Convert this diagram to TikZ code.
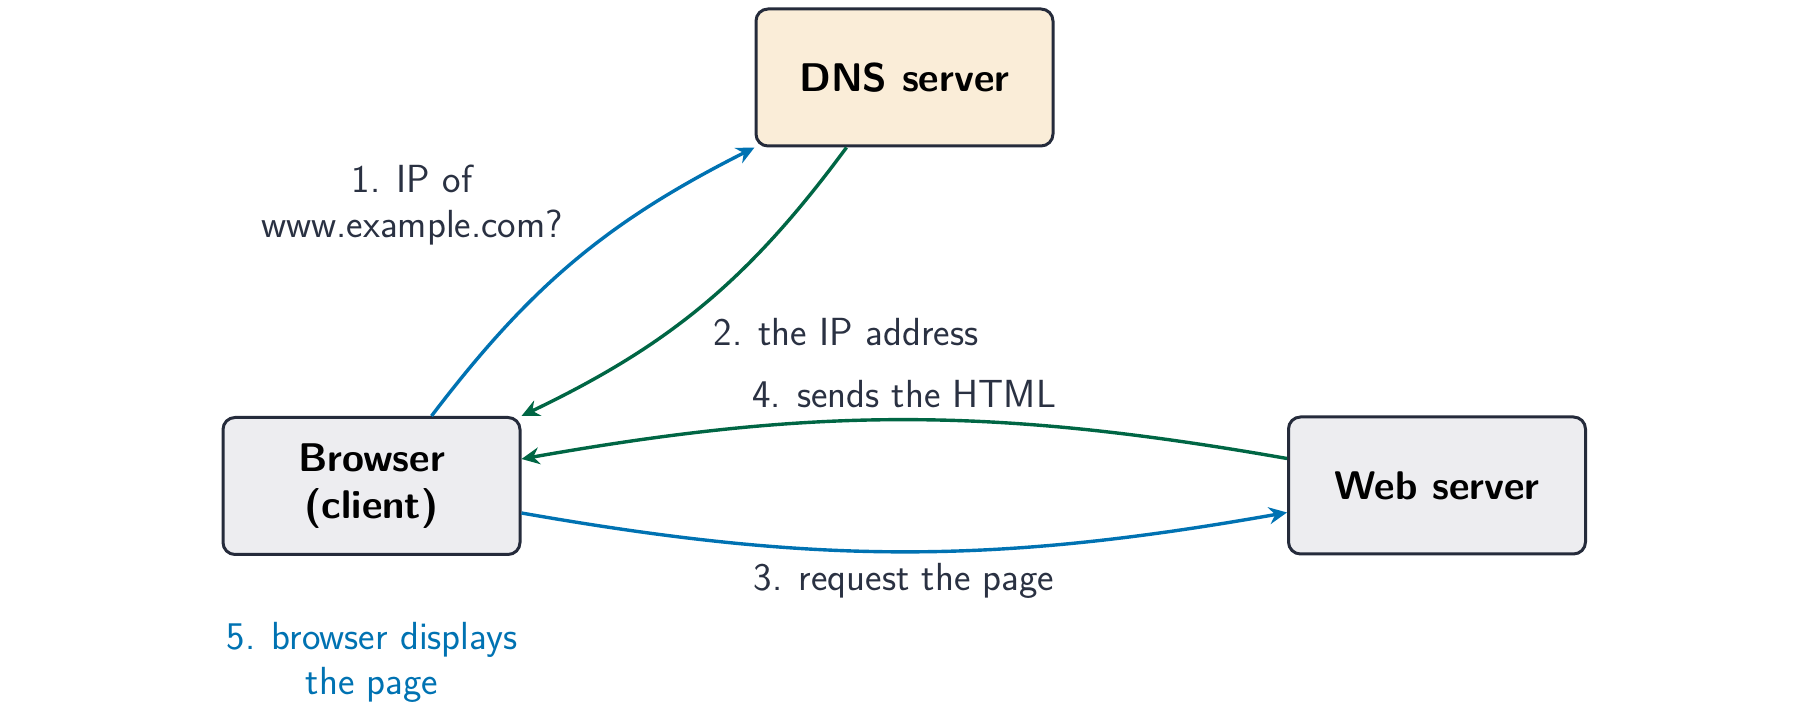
\documentclass[tikz,border=0pt]{standalone}
\usepackage{tikz}
\usetikzlibrary{arrows.meta}
\renewcommand{\familydefault}{\sfdefault}
\definecolor{dnsfill}{HTML}{FAEDD8}
\definecolor{boxfill}{HTML}{EDEDF0}
\definecolor{boxline}{HTML}{252B3B}
\definecolor{lbltext}{HTML}{2A3142}
\definecolor{arrblue}{HTML}{0072B2}
\definecolor{arrgreen}{RGB}{0,102,68}
\begin{document}
\begin{tikzpicture}[x=0.5pt,y=0.5pt,
  box/.style={draw=boxline, line width=1.5pt, rounded corners=6pt, fill=boxfill,
    minimum width=148.5pt, minimum height=68.5pt, align=center, inner sep=0pt,
    font=\fontsize{20}{23.5}\selectfont\bfseries, text=black},
  lbl/.style={align=center, inner sep=0pt, text=lbltext,
    font=\fontsize{19.6}{22.4}\selectfont},
  conn/.style={line width=1.7pt, -{Stealth[length=9pt,width=8.5pt,inset=3pt]}},
  bluearr/.style={conn, draw=arrblue},
  greenarr/.style={conn, draw=arrgreen}]
\useasboundingbox (0,0) rectangle (1800,723);
\node[box, fill=dnsfill] (dns) at (904.5,645.5) {DNS server};
\node[box] (browser) at (371.5,237) {Browser\\(client)};
\node[box] (web) at (1437,237.5) {Web server};
\node[lbl] (l1) at (412,518) {1. IP of\\www.example.com?};
\node[lbl] (l2) at (846,391) {2. the IP address};
\node[lbl] (l4) at (904,329) {4. sends the HTML};
\node[lbl] (l3) at (904,142) {3. request the page};
\node[lbl, text=arrblue] (l5) at (372,61) {5. browser displays\\the page};
\draw[bluearr] ([xshift=30pt]browser.north) to[bend left=13] (dns.south west);
\draw[greenarr] ([xshift=-29pt]dns.south) to[bend left=14] (browser.north east);
\draw[bluearr] ([yshift=-13.5pt]browser.east) to[bend right=10] ([yshift=-13.5pt]web.west);
\draw[greenarr] ([yshift=13.5pt]web.west) to[bend right=10] ([yshift=13.5pt]browser.east);
\end{tikzpicture}
\end{document}
